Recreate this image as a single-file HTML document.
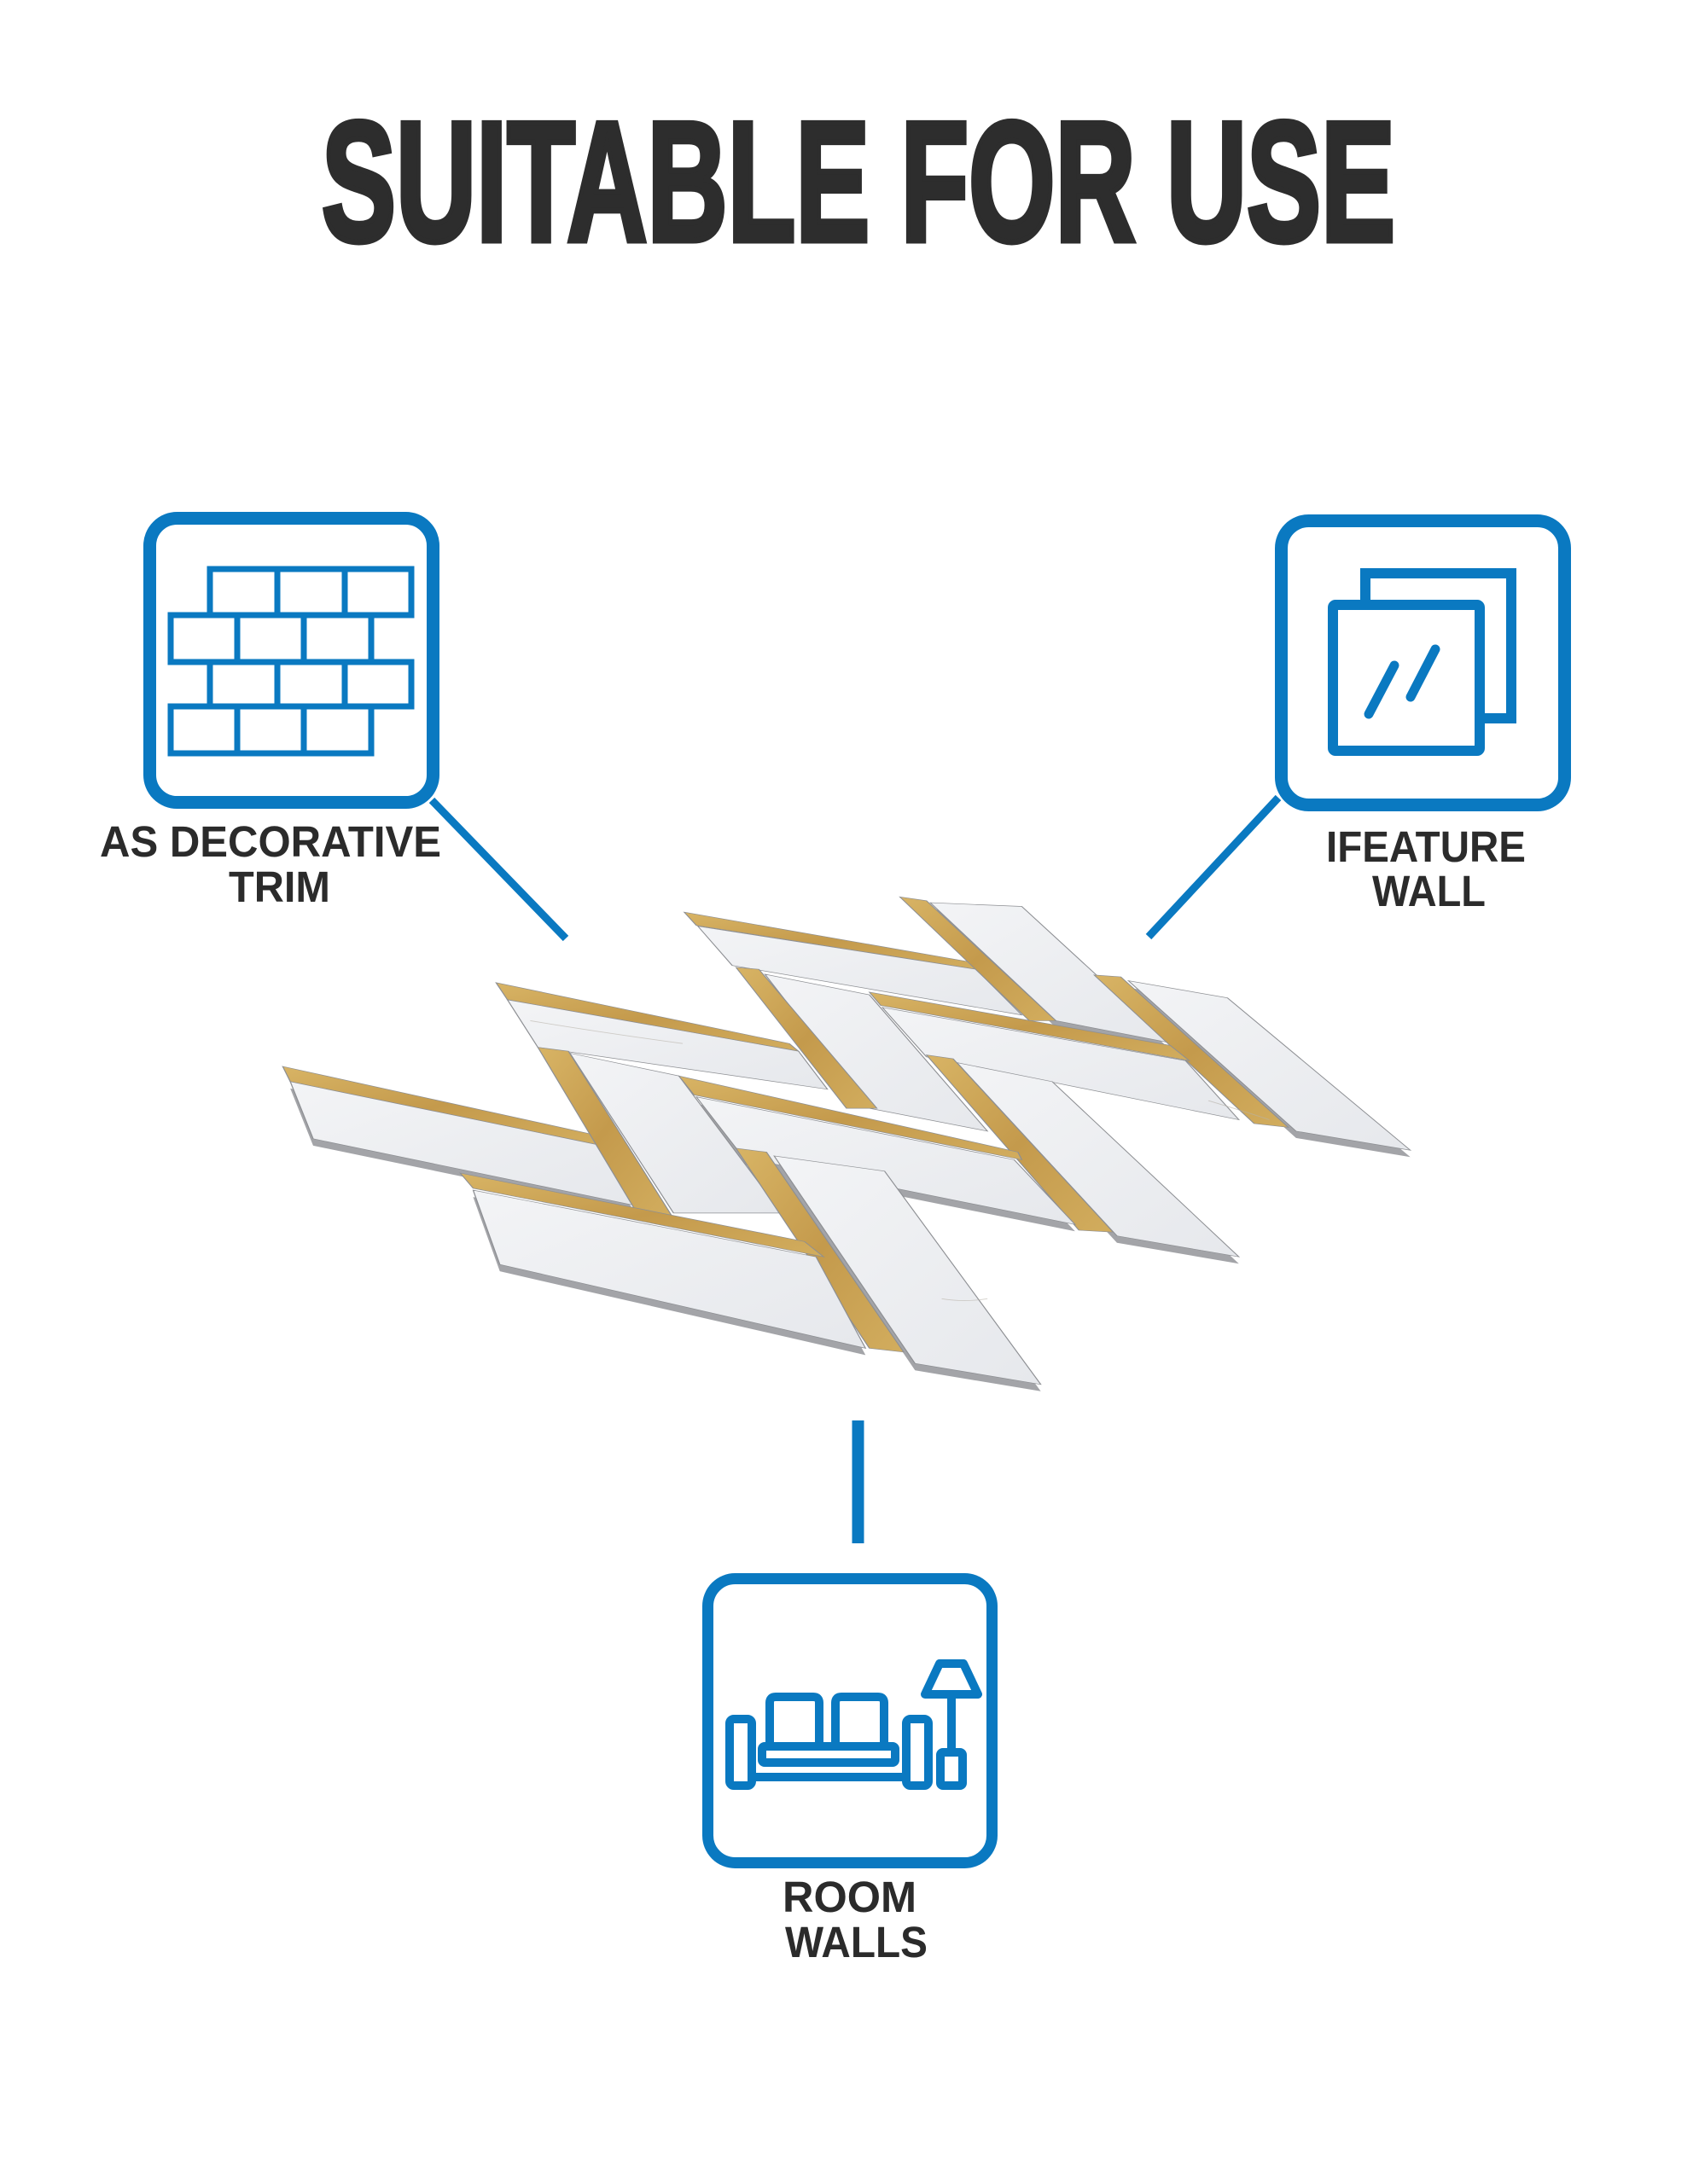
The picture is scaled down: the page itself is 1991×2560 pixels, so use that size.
<!DOCTYPE html>
<html><head><meta charset="utf-8"><style>
html,body{margin:0;padding:0;background:#fff;}
body{width:1991px;height:2560px;position:relative;overflow:hidden;}
svg{position:absolute;}
</style></head><body>

<svg style="left:300px;top:1000px" width="1400" height="700" viewBox="0 0 1568 1568" preserveAspectRatio="none">
<defs>
<linearGradient id="gd" x1="0" y1="0" x2="1" y2="1"><stop offset="0" stop-color="#d8b465"/><stop offset="0.5" stop-color="#c49a4c"/><stop offset="1" stop-color="#d2ad5e"/></linearGradient>
<linearGradient id="wt" x1="0" y1="0" x2="1" y2="1"><stop offset="0" stop-color="#f3f4f6"/><stop offset="1" stop-color="#e6e8ec"/></linearGradient>
</defs>
<g fill="#a3a4a8" transform="translate(0,18)">
<polygon points="885,130 1005,140 1200,498 1050,440"/>
<polygon points="1145,335 1275,380 1515,780 1365,730"/>
<polygon points="578,640 995,805 1075,975 640,800"/>
<polygon points="920,550 1045,600 1290,1060 1130,1005"/>
<polygon points="285,885 735,1060 800,1300 320,1080"/>
<polygon points="680,795 825,835 1030,1395 865,1340"/>
<polygon points="45,600 447,765 497,925 75,750"/>
</g>
<g stroke="#8d8f93" stroke-width="1.5">
<polygon fill="url(#gd)" points="562,155 935,285 945,305 578,190"/>
<polygon fill="url(#wt)" points="580,192 945,305 1005,425 625,295"/>
<polygon fill="url(#gd)" points="845,115 880,125 1050,440 1015,440"/>
<polygon fill="url(#wt)" points="885,130 1005,140 1200,498 1050,440"/>
<polygon fill="url(#gd)" points="1100,320 1135,325 1355,720 1310,710"/>
<polygon fill="url(#wt)" points="1145,335 1275,380 1515,780 1365,730"/>
<polygon fill="url(#gd)" points="315,340 700,500 712,520 330,385"/>
<polygon fill="url(#wt)" points="330,385 712,520 750,620 370,510"/>
<polygon fill="url(#wt)" points="668,318 805,372 960,730 805,670"/>
<polygon fill="url(#gd)" points="630,300 660,305 815,670 775,670"/>
<polygon fill="url(#gd)" points="805,365 1200,505 1225,545 820,400"/>
<polygon fill="url(#wt)" points="822,405 1220,545 1290,700 880,535"/>
<polygon fill="url(#wt)" points="920,550 1045,600 1290,1060 1130,1005"/>
<polygon fill="url(#gd)" points="880,530 915,540 1125,995 1080,990"/>
<polygon fill="url(#wt)" points="412,525 555,585 690,945 548,945"/>
<polygon fill="url(#gd)" points="555,585 1000,785 1005,805 575,635"/>
<polygon fill="url(#wt)" points="578,640 995,805 1075,975 640,800"/>
<polygon fill="url(#gd)" points="35,560 445,740 447,765 45,600"/>
<polygon fill="url(#wt)" points="45,600 447,765 497,925 75,750"/>
<polygon fill="url(#gd)" points="370,510 410,520 545,950 500,945"/>
<polygon fill="url(#wt)" points="680,795 825,835 1030,1395 865,1340"/>
<polygon fill="url(#gd)" points="630,775 670,785 850,1310 805,1300"/>
<polygon fill="url(#gd)" points="268,840 720,1020 745,1060 285,880"/>
<polygon fill="url(#wt)" points="285,885 735,1060 800,1300 320,1080"/>
</g>
<g fill="none" stroke="#b8b3a8" stroke-width="2" opacity="0.6">
<path d="M360,440 Q450,470 560,500"/><path d="M900,1170 Q930,1180 960,1170"/><path d="M1250,650 Q1300,680 1330,700"/>
</g>
</svg>

<svg style="left:0;top:0" width="1991" height="2560" viewBox="0 0 1991 2560">
<text x="377" y="282" font-family="Liberation Sans Narrow, Liberation Sans, sans-serif" font-weight="bold" font-size="200" textLength="1258" lengthAdjust="spacingAndGlyphs" fill="#2d2d2d" stroke="#2d2d2d" stroke-width="7">SUITABLE FOR USE</text>

<g fill="none" stroke="#0a79c1">
<rect x="175.5" y="607.5" width="332" height="333" rx="32" stroke-width="15"/>
<g stroke-width="7">
<rect x="246" y="667" width="236" height="54"/>
<rect x="200" y="721" width="235" height="55"/>
<rect x="246" y="776" width="236" height="52"/>
<rect x="200" y="828" width="235" height="55"/>
<line x1="325" y1="667" x2="325" y2="721"/><line x1="404" y1="667" x2="404" y2="721"/>
<line x1="325" y1="776" x2="325" y2="828"/><line x1="404" y1="776" x2="404" y2="828"/>
<line x1="278" y1="721" x2="278" y2="776"/><line x1="356" y1="721" x2="356" y2="776"/>
<line x1="278" y1="828" x2="278" y2="883"/><line x1="356" y1="828" x2="356" y2="883"/>
</g>
<line x1="506" y1="938" x2="663" y2="1100" stroke-width="9"/>
<rect x="1501.5" y="610.5" width="332" height="333" rx="32" stroke-width="15"/>
<g stroke-width="12">
<path d="M1600,703 V672 H1771 V842 H1740"/>
<rect x="1562" y="709" width="172" height="171" rx="3"/>
</g>
<g stroke-width="11" stroke-linecap="round">
<line x1="1634" y1="780" x2="1604" y2="837"/><line x1="1682" y1="761" x2="1653" y2="817"/>
</g>
<line x1="1498" y1="935" x2="1346" y2="1098" stroke-width="9"/>
<line x1="1005.5" y1="1665" x2="1005.5" y2="1809" stroke-width="14"/>
<rect x="829.5" y="1850.5" width="333" height="333" rx="32" stroke-width="13"/>
<g stroke-width="10" stroke-linejoin="round">
<rect x="855" y="2015" width="26" height="78" rx="5"/>
<rect x="1062" y="2015" width="26" height="78" rx="5"/>
<rect x="893" y="2047" width="156" height="19" rx="3"/>
<line x1="881" y1="2083" x2="1062" y2="2083"/>
<path d="M902,2047 V1996 Q902,1989 909,1989 H953 Q960,1989 960,1996 V2047"/>
<path d="M979,2047 V1996 Q979,1989 986,1989 H1029 Q1036,1989 1036,1996 V2047"/>
<path d="M1084,1986 L1101,1950 H1129 L1146,1986 Z"/>
<line x1="1115" y1="1986" x2="1115" y2="2054"/>
<rect x="1102" y="2054" width="26" height="39" rx="3"/>
</g>
</g>

<g font-family="Liberation Sans, sans-serif" font-weight="bold" fill="#2b2b2b" font-size="51">
<text x="117" y="1004" textLength="400" lengthAdjust="spacingAndGlyphs">AS DECORATIVE</text>
<text x="268" y="1057" textLength="119" lengthAdjust="spacingAndGlyphs">TRIM</text>
<text x="1554" y="1010" textLength="234" lengthAdjust="spacingAndGlyphs">IFEATURE</text>
<text x="1608" y="1062" textLength="133" lengthAdjust="spacingAndGlyphs">WALL</text>
<text x="917" y="2241" textLength="157" lengthAdjust="spacingAndGlyphs">ROOM</text>
<text x="920" y="2294" textLength="167" lengthAdjust="spacingAndGlyphs">WALLS</text>
</g>
</svg>
</body></html>
